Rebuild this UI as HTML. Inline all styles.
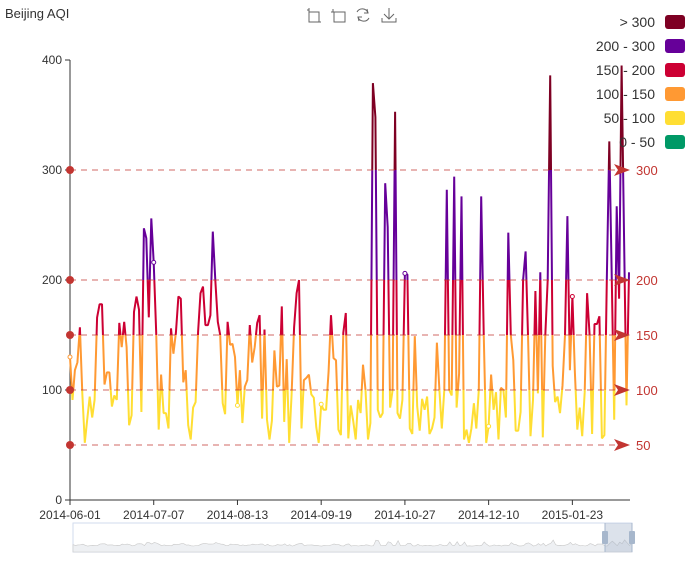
<!DOCTYPE html>
<html><head><meta charset="utf-8"><style>
body{margin:0;background:#fff;font-family:"Liberation Sans",sans-serif}
svg text{font-family:"Liberation Sans",sans-serif}
</style></head><body>
<svg id="c" width="700" height="560" xmlns="http://www.w3.org/2000/svg">
<text x="5" y="18" font-size="13" fill="#333">Beijing AQI</text>
<g stroke="#666" fill="none" stroke-width="1">
 <g><path d="M307 10h2v12h12M309 12h10v10M309 8v2M307 10h0"/></g>
 <g><path d="M333 9v3h12v10h-11v-10M331 12h4"/></g>
 <g><path d="M357 12a6 6 0 0 1 11 1M369 18a6 6 0 0 1-11-1"/><path d="M367 9l1 4-4 0M359 21l-1-4 4 0"/></g>
 <g><path d="M389 8v11M384 14l5 5 5-5M382 18v4h14v-4"/></g>
</g>
<g id="axes"></g>
<g id="plot"></g>
<g id="marks"></g>
<g id="legend"></g>
<g id="slider"></g>
</svg>
<script>
const values = [130,91,118,125,157,97,52,73,94,75,91,166,178,178,105,116,116,85,95,91,161,139,162,139,68,77,171,185,173,80,247,238,166,256,216,152,64,114,79,79,65,156,133,152,185,183,107,118,68,55,84,89,153,188,194,159,159,168,244,200,162,
150,88,78,162,141,142,130,86,118,70,103,109,159,125,139,161,168,74,155,73,55,72,136,103,104,176,71,128,52,96,157,188,200,65,109,111,114,96,93,66,52,87,82,82,117,168,129,127,64,59,152,170,56,86,72,
55,91,79,123,100,55,70,379,348,82,75,79,288,248,84,100,353,79,74,91,206,205,65,60,149,85,63,92,82,94,60,65,75,143,100,65,100,282,100,95,294,84,115,276,55,64,52,65,88,65,100,276,
152,52,67,114,82,98,55,102,100,75,243,150,127,63,63,80,200,226,150,58,91,190,97,207,57,150,200,386,122,89,94,79,104,150,258,118,185,118,64,84,58,98,188,150,60,160,160,167,56,59,200,326,200,73,267,183,395,236,86,207];
const tickLabels = ["2014-06-01","2014-07-07","2014-08-13","2014-09-19","2014-10-27","2014-12-10","2015-01-23"];
const yTicks = [0,100,200,300,400];
const markValues = [50,100,150,200,300];
const pieceLabels = ["> 300","200 - 300","150 - 200","100 - 150","50 - 100","0 - 50"];
const pieceColors = ["#7e0023","#660099","#cc0033","#ff9933","#ffde33","#009966"];
const pieceBounds = [0,50,100,150,200,300,1000];

const NS="http://www.w3.org/2000/svg";
const X0=70,X1=629,Y0=500,YT=60;
const N=values.length;
const xs=i=>X0+i*(X1-X0)/(N-1);
const ys=v=>Y0-(v/400)*(Y0-YT);
const labelStep=Math.round((N-1)*83.2/(X1-X0));
function mk(tag,attrs,parent){const e=document.createElementNS(NS,tag);for(const k in attrs)e.setAttribute(k,attrs[k]);parent.appendChild(e);return e;}
const svg=document.getElementById('c');
const axes=document.getElementById('axes');
let ya=mk('line',{x1:X0,y1:YT,x2:X0,y2:Y0,stroke:'#333'},axes);


yTicks.forEach(v=>{
 mk('line',{x1:X0-5,x2:X0,y1:ys(v),y2:ys(v),stroke:'#333'},axes);
 const t=mk('text',{x:X0-8,y:ys(v)+4,'text-anchor':'end','font-size':12,fill:'#333'},axes);
 t.textContent=v;
 
 
});
let xa=mk('line',{x1:X0,y1:Y0,x2:630,y2:Y0,stroke:'#333'},axes);


tickLabels.forEach((l,k)=>{
 const x=xs(k*labelStep);
 mk('line',{x1:x,x2:x,y1:Y0,y2:Y0+5,stroke:'#333'},axes);
 const t=mk('text',{x:x,y:Y0+19,'text-anchor':'middle','font-size':12,fill:'#333'},axes);
 t.textContent=l;
 
 
});
const defs=mk('defs',{},svg);
const g=mk('linearGradient',{id:'grad',gradientUnits:'userSpaceOnUse',x1:0,x2:0,y1:ys(0),y2:ys(1000)},defs);
for(let p=0;p<6;p++){
 const c=pieceColors[5-p];
 mk('stop',{offset:pieceBounds[p]/1000,'stop-color':c},g);
 mk('stop',{offset:pieceBounds[p+1]/1000,'stop-color':c},g);
}
const plot=document.getElementById('plot');
const line=mk('path',{d:values.map((v,i)=>(i?'L':'M')+xs(i).toFixed(1)+' '+ys(v).toFixed(1)).join(''),fill:'none',stroke:'url(#grad)','stroke-width':2,'stroke-linejoin':'bevel'},plot);


function colorOf(v){for(let p=0;p<6;p++){if(v<=pieceBounds[p+1])return pieceColors[5-p];}return pieceColors[0];}
for(let i=0;i<N;i+=labelStep){
 const c=mk('circle',{cx:xs(i),cy:ys(values[i]),r:2,fill:'#fff',stroke:colorOf(values[i]),'stroke-width':1},plot);
 
 
}
const marks=document.getElementById('marks');
markValues.forEach(v=>{
 const y=ys(v);
 const l=mk('line',{x1:X0,x2:624,y1:y,y2:y,stroke:'#c23531','stroke-dasharray':'6,5','stroke-opacity':0.75},marks);
 
 
 mk('circle',{cx:X0,cy:y,r:4,fill:'#c23531'},marks);
 mk('path',{d:`M614 ${y-6}L630 ${y}L614 ${y+6}L618 ${y}Z`,fill:'#c23531'},marks);
 const t=mk('text',{x:636,y:y+5,'font-size':13,fill:'#c23531'},marks);
 t.textContent=v;
 
 
});
const leg=document.getElementById('legend');
pieceLabels.forEach((l,k)=>{
 const y=22+k*24;
 const r=mk('rect',{x:665,y:y-7,width:20,height:14,rx:3,fill:pieceColors[k]},leg);
 
 
 const t=mk('text',{x:655,y:y+5,'text-anchor':'end','font-size':14,fill:'#333'},leg);
 t.textContent=l;
 
 
});
const sl=document.getElementById('slider');
const bg=mk('rect',{x:73,y:523,width:559,height:29,fill:'none',stroke:'#d2dbee'},sl);


const sx=i=>73+i*559/(N-1), sy=v=>547-v*0.018;
mk('path',{d:'M73 552'+values.map((v,i)=>'L'+sx(i).toFixed(1)+' '+sy(v).toFixed(1)).join('')+'L632 552Z',fill:'#eef0f3',stroke:'#c8c8c8','stroke-width':0.6},sl);
const win=mk('rect',{x:605,y:523,width:27,height:29,fill:'rgba(167,183,204,0.4)'},sl);


[605,632].forEach(x=>{
 mk('line',{x1:x,x2:x,y1:523,y2:552,stroke:'#a7b7cc'},sl);
 const h=mk('rect',{x:x-3,y:531,width:6,height:13,fill:'#a7b7cc',rx:1},sl);
 
 
});
</script>
</body></html>
